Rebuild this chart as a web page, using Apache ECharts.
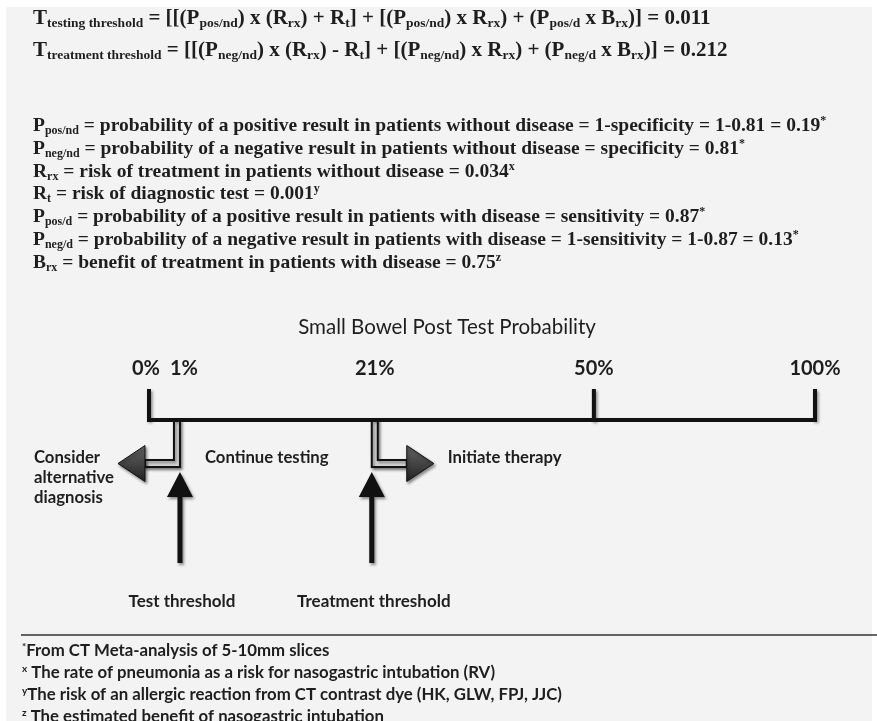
<!DOCTYPE html>
<html><head><meta charset="utf-8">
<script src="https://cdn.jsdelivr.net/npm/echarts@6/dist/echarts.min.js"></script>
<style>html,body{margin:0;padding:0;background:#fff}#c{width:877px;height:721px}</style>
</head><body><div id="c"></div><script>
// ---------- data ----------
const equationLines = [
  'T_{testing threshold} = [[(P_{pos/nd}) x (R_{rx}) + R_{t}] + [(P_{pos/nd}) x R_{rx}) + (P_{pos/d} x B_{rx})] = 0.011',
  'T_{treatment threshold} = [[(P_{neg/nd}) x (R_{rx}) - R_{t}] + [(P_{neg/nd}) x R_{rx}) + (P_{neg/d} x B_{rx})] = 0.212'
];
const definitionLines = [
  'P_{pos/nd} = probability of a positive result in patients without disease = 1-specificity = 1-0.81 = 0.19^{*}',
  'P_{neg/nd} = probability of a negative result in patients without disease = specificity = 0.81^{*}',
  'R_{rx} = risk of treatment in patients without disease = 0.034^{x}',
  'R_{t} = risk of diagnostic test = 0.001^{y}',
  'P_{pos/d} = probability of a positive result in patients with disease = sensitivity = 0.87^{*}',
  'P_{neg/d} = probability of a negative result in patients with disease = 1-sensitivity = 1-0.87 = 0.13^{*}',
  'B_{rx} = benefit of treatment in patients with disease = 0.75^{z}'
];
const footnoteLines = [
  '^{*}From CT Meta-analysis of 5-10mm slices',
  '^{x} The rate of pneumonia as a risk for nasogastric intubation (RV)',
  '^{y}The risk of an allergic reaction from CT contrast dye (HK, GLW, FPJ, JJC)',
  '^{z} The estimated benefit of nasogastric intubation'
];
const axisTitle = 'Small Bowel Post Test Probability';
const tickValues = [0, 1, 21, 50, 100];
const tickLabels = ['0%', '1%', '21%', '50%', '100%'];
const majorTicks = [0, 50, 100];
const thresholdNames = ['Test threshold', 'Treatment threshold'];
const thresholdValues = [1, 21];
const thresholdDirections = ['left', 'right'];
const zoneLabels = ['Consider\nalternative\ndiagnosis', 'Continue testing', 'Initiate therapy'];

// schematic (non-linear) placement of probabilities along the drawn axis
const scaleKnotsPct = [0, 1, 21, 50, 100];
const scaleKnotsPos = [0, 4.2, 33.9, 66.8, 100];
function schematic(p) {
  for (let i = 1; i < scaleKnotsPct.length; i++) {
    if (p <= scaleKnotsPct[i]) {
      const a = scaleKnotsPct[i - 1], b = scaleKnotsPct[i];
      return scaleKnotsPos[i - 1] + (p - a) / (b - a) * (scaleKnotsPos[i] - scaleKnotsPos[i - 1]);
    }
  }
  return 100;
}

// ---------- styles ----------
const INK = '#1e1e1e';
const SERIF = '"Liberation Serif", "DejaVu Serif", serif';
const SANS = 'Lato, "Liberation Sans", sans-serif';
const SHADOW = { shadowBlur: 3, shadowOffsetX: 1.5, shadowOffsetY: 2, shadowColor: 'rgba(0,0,0,0.45)' };

function toRich(str) {
  let out = '';
  const re = /([_^])\{([^}]*)\}/g;
  let last = 0, m;
  while ((m = re.exec(str))) {
    if (m.index > last) out += '{m|' + str.slice(last, m.index) + '}';
    out += (m[1] === '_' ? '{s|' : '{p|') + m[2] + '}';
    last = re.lastIndex;
  }
  if (last < str.length) out += '{m|' + str.slice(last) + '}';
  return out;
}
function richStyles(family, size, subSize, lh) {
  return {
    m: { fontFamily: family, fontSize: size, fontWeight: 'bold', fill: INK, lineHeight: lh, verticalAlign: 'middle' },
    s: { fontFamily: family, fontSize: subSize, fontWeight: 'bold', fill: INK, lineHeight: Math.round(lh * 0.5), verticalAlign: 'bottom' },
    p: { fontFamily: family, fontSize: subSize, fontWeight: 'bold', fill: INK, lineHeight: Math.round(lh * 0.5), verticalAlign: 'top' }
  };
}
function textLine(str, x, y, family, size, subSize, lh) {
  return {
    type: 'text', x: x, y: y, silent: true,
    style: { text: toRich(str), rich: richStyles(family, size, subSize, lh), align: 'left', verticalAlign: 'middle' }
  };
}

const graphics = [
  { type: 'rect', shape: { x: 6, y: 7, width: 866, height: 714 }, style: { fill: '#f3f3f3' }, z: -10, silent: true }
];
equationLines.forEach((l, i) => graphics.push(textLine(l, 33, 19 + i * 31.5, SERIF, 21, 13.5, 24)));
definitionLines.forEach((l, i) => graphics.push(textLine(l, 33, 126 + i * 22.8, SERIF, 19.5, 12, 22)));
footnoteLines.forEach((l, i) => graphics.push(textLine(l, 22, 651 + i * 21.8, SANS, 16.8, 10, 18)));
graphics.push({ type: 'line', shape: { x1: 21, y1: 635, x2: 877, y2: 635 }, style: { stroke: '#333', lineWidth: 1.5 }, silent: true });
graphics.push({ type: 'text', x: 447, y: 327, silent: true,
  style: { text: axisTitle, fontFamily: SANS, fontSize: 20.5, fill: INK, align: 'center', verticalAlign: 'middle' } });

// ---------- diagram series ----------
const baseY = 420;
function renderTick(params, api) {
  const p = api.coord([api.value(0), 0]);
  return { type: 'line', shape: { x1: p[0], y1: p[1] - 31, x2: p[0], y2: p[1] + 1 },
    style: Object.assign({ stroke: '#111', lineWidth: 4, lineCap: 'butt' }, SHADOW) };
}
function renderTickLabel(params, api) {
  const p = api.coord([api.value(0), 0]);
  const idx = params.dataIndex;
  let align = 'center', dx = 0;
  if (idx === 0) { align = 'right'; dx = 11; }
  if (idx === 1) { align = 'left'; dx = -7; }
  return { type: 'text', x: p[0] + dx, y: p[1] - 51,
    style: { text: tickLabels[idx], fontFamily: SANS, fontSize: 20, fontWeight: 'bold', fill: INK, align: align, verticalAlign: 'middle' } };
}
function renderThreshold(params, api) {
  const p = api.coord([api.value(0), 0]);
  const sx = p[0], by = p[1];
  const dir = thresholdDirections[params.dataIndex] === 'left' ? -1 : 1;
  const hw = 3, armTop = by + 40, armBot = by + 47, armLen = 32, headLen = 27, headHalf = 18;
  const armEnd = sx + dir * armLen;
  const bodyPts = [[sx - hw, by], [sx + hw, by], [sx + hw, armBot], [armEnd, armBot], [armEnd, armTop], [sx - hw, armTop]];
  const bodyPtsR = [[sx - hw, by], [sx + hw, by], [sx + hw, armTop], [armEnd, armTop], [armEnd, armBot], [sx - hw, armBot]];
  const cy = (armTop + armBot) / 2;
  const head = [[armEnd, cy - headHalf], [armEnd + dir * headLen, cy], [armEnd, cy + headHalf]];
  const ux = sx + (dir < 0 ? 3 : -3);
  const up = [[ux, by + 52], [ux + 13, by + 77], [ux + 2.5, by + 77], [ux + 2.5, by + 143], [ux - 2.5, by + 143], [ux - 2.5, by + 77], [ux - 13, by + 77]];
  return { type: 'group', children: [
    { type: 'polygon', shape: { points: dir < 0 ? bodyPts : bodyPtsR },
      style: Object.assign({ fill: '#d6d6d6', stroke: '#111', lineWidth: 2 }, SHADOW) },
    { type: 'polygon', shape: { points: head },
      style: Object.assign({ fill: new echarts.graphic.LinearGradient(0, 0, 0, 1, [{ offset: 0, color: '#666' }, { offset: 1, color: '#222' }]), stroke: '#111', lineWidth: 1 }, SHADOW) },
    { type: 'polygon', shape: { points: up }, style: Object.assign({ fill: '#111' }, SHADOW) },
    { type: 'text', x: ux + 2, y: by + 182,
      style: { text: thresholdNames[params.dataIndex], fontFamily: SANS, fontSize: 17, fontWeight: 'bold', fill: INK, align: 'center', verticalAlign: 'middle' } }
  ] };
}
function renderZones(params, api) {
  const x0 = api.coord([schematic(0), 0]);
  const x1 = api.coord([schematic(thresholdValues[0]), 0]);
  const x2 = api.coord([schematic(thresholdValues[1]), 0]);
  const st = { fontFamily: SANS, fontSize: 16.7, fontWeight: 'bold', fill: INK, align: 'left', verticalAlign: 'middle', lineHeight: 20 };
  return { type: 'group', children: [
    { type: 'text', x: x0[0] - 115, y: x0[1] + 58, style: Object.assign({ text: zoneLabels[0] }, st) },
    { type: 'text', x: x1[0] + 28, y: x1[1] + 38, style: Object.assign({ text: zoneLabels[1] }, st) },
    { type: 'text', x: x2[0] + 73, y: x2[1] + 38, style: Object.assign({ text: zoneLabels[2] }, st) }
  ] };
}

const chart = echarts.init(document.getElementById('c'), null, { renderer: 'canvas' });
chart.setOption({
  backgroundColor: '#ffffff',
  animation: false,
  graphic: graphics,
  grid: { left: 149, right: 62, top: 300, bottom: 721 - baseY, containLabel: false },
  xAxis: { type: 'value', min: 0, max: 100, show: false },
  yAxis: { type: 'value', min: 0, max: 1, show: false },
  series: [
    { type: 'line', data: [[schematic(0), 0], [schematic(100), 0]], symbol: 'none', silent: true,
      lineStyle: Object.assign({ color: '#111', width: 4, cap: 'square' }, SHADOW), z: 3 },
    { type: 'custom', renderItem: renderTick, data: majorTicks.map(v => [schematic(v)]), silent: true, z: 2 },
    { type: 'custom', renderItem: renderTickLabel, data: tickValues.map(v => [schematic(v)]), silent: true },
    { type: 'custom', renderItem: renderThreshold, data: thresholdValues.map(v => [schematic(v)]), silent: true, z: 1 },
    { type: 'custom', renderItem: renderZones, data: [[0]], silent: true }
  ]
});
</script></body></html>
